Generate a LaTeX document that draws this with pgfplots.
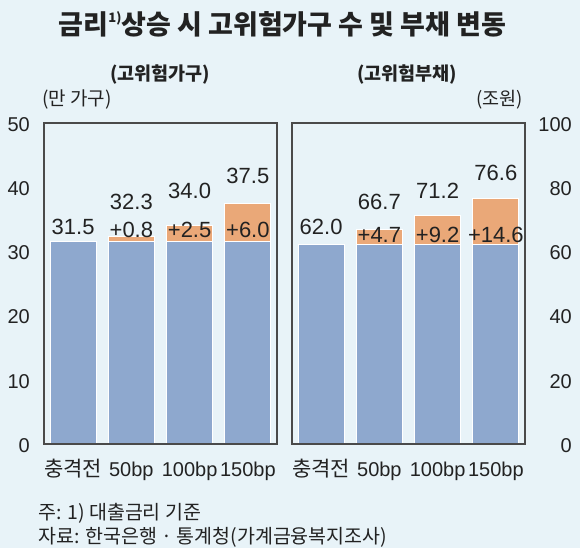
\documentclass[border=0pt]{standalone}
\usepackage{pgfplots}
\pgfplotsset{compat=1.18}
\usepackage{fontspec}
\setmainfont{Liberation Sans}
\newfontfamily\kr{Noto Sans CJK KR}
\definecolor{bg}{HTML}{E8F3F8}
\definecolor{barblue}{HTML}{8EA8CE}
\definecolor{barorange}{HTML}{EAA878}
\definecolor{frame}{HTML}{4A4A4A}
\definecolor{txt}{HTML}{222222}
\pgfplotsset{
  panel/.style={
    anchor=south west, scale only axis, width=233pt, height=321pt,
    xmin=-0.5, xmax=3.5, ymin=0,
    axis line style={draw=frame, line width=1.2pt},
    axis on top=true,
    tick style={draw=none}, major tick length=0pt,
    xtick={0,1,2,3}, xticklabels={{\kr\fontsize{21}{21}\selectfont 충격전},50bp,100bp,150bp},
    xticklabel style={anchor=base, yshift=-33pt, inner sep=0pt, font=\fontsize{20}{20}\selectfont, text=txt},
    yticklabel style={inner sep=0pt, font=\fontsize{20}{20}\selectfont, text=txt},
    /pgf/number format/assume math mode=true,
    ybar, bar width=46pt,
    clip=false,
  },
}
\tikzset{lbl/.style={anchor=base, inner sep=0pt, font=\fontsize{22}{22}\selectfont, text=txt}}
\begin{document}
\begin{tikzpicture}[x=1pt,y=1pt]
\fill[bg] (0,0) rectangle (580,548);
\node[anchor=base, inner sep=0pt, font=\kr\bfseries\fontsize{27}{27}\selectfont, text=txt] at (282.5,513) {금리\raisebox{0.45em}{\fontsize{13}{13}\selectfont 1)}상승 시 고위험가구 수 및 부채 변동};
\node[inner sep=0pt, font=\kr\bfseries\fontsize{18.5}{18.5}\selectfont, text=txt] at (160,473) {(고위험가구)};
\node[inner sep=0pt, font=\kr\bfseries\fontsize{18.5}{18.5}\selectfont, text=txt] at (407,473) {(고위험부채)};
\node[anchor=west, inner sep=0pt, font=\kr\fontsize{19}{19}\selectfont, text=txt] at (42,448) {(만 가구)};
\node[anchor=east, inner sep=0pt, font=\kr\fontsize{18.5}{18.5}\selectfont, text=txt] at (523,448) {(조원)};
\node[anchor=west, inner sep=0pt, font=\kr\fontsize{19.5}{19.5}\selectfont, text=txt] at (38,35) {주: 1) 대출금리 기준};
\node[anchor=west, inner sep=0pt, font=\kr\fontsize{19.5}{19.5}\selectfont, text=txt] at (38,11) {자료: 한국은행 · 통계청(가계금융복지조사)};

\begin{axis}[panel, at={(44pt,104pt)}, ymax=50, ytick={0,10,20,30,40,50},
  ytick pos=left, yticklabel pos=left,
  yticklabel style={anchor=east, xshift=-14pt, yshift=-1.5pt}]
\addplot[fill=barorange, draw=white, line width=1pt, bar shift=0pt] coordinates {(1,32.3) (2,34.0) (3,37.5)};
\addplot[fill=barblue, draw=white, line width=1pt, bar shift=0pt] coordinates {(0,31.5) (1,31.5) (2,31.5) (3,31.5)};
\node[lbl] at (axis cs:0,32.7) {31.5};
\node[lbl] at (axis cs:1,36.45) {32.3};
\node[lbl] at (axis cs:2,38.2) {34.0};
\node[lbl] at (axis cs:3,40.65) {37.5};
\node[lbl] at (axis cs:1,32.2) {+0.8};
\node[lbl] at (axis cs:2,32.2) {+2.5};
\node[lbl] at (axis cs:3,32.2) {+6.0};
\end{axis}

\begin{axis}[panel, at={(292pt,104pt)}, ymax=100, ytick={0,20,40,60,80,100},
  ytick pos=right, yticklabel pos=right,
  yticklabel style={anchor=east, xshift=47pt, yshift=-1.5pt}]
\addplot[fill=barorange, draw=white, line width=1pt, bar shift=0pt] coordinates {(1,66.7) (2,71.2) (3,76.6)};
\addplot[fill=barblue, draw=white, line width=1pt, bar shift=0pt] coordinates {(0,62.0) (1,62.0) (2,62.0) (3,62.0)};
\node[lbl] at (axis cs:0,65.4) {62.0};
\node[lbl] at (axis cs:1,72.9) {66.7};
\node[lbl] at (axis cs:2,76.6) {71.2};
\node[lbl] at (axis cs:3,82.2) {76.6};
\node[lbl] at (axis cs:1,62.9) {+4.7};
\node[lbl] at (axis cs:2,62.9) {+9.2};
\node[lbl] at (axis cs:3,62.9) {+14.6};
\end{axis}
\end{tikzpicture}
\end{document}
